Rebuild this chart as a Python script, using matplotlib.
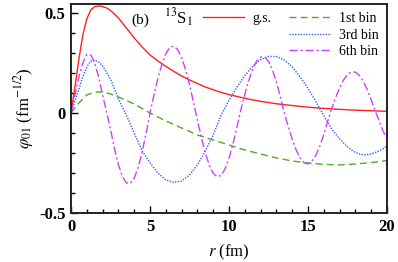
import matplotlib
matplotlib.use("Agg")
import matplotlib.pyplot as plt
from matplotlib.ticker import MultipleLocator

plt.rcParams['font.family'] = ['Liberation Serif', 'DejaVu Serif']
plt.rcParams['mathtext.fontset'] = 'stix'

# ground state (red, solid)
r_gs = [0, 0.25, 0.5, 0.75, 1.0, 1.25, 1.5, 1.75, 2.0, 2.25, 2.5, 2.75, 3.0, 3.5, 4.0, 4.5, 5.0,
        5.5, 6.0, 6.5, 7.0, 7.5, 8.0, 8.5, 9.0, 9.5, 10.0, 11.0, 12.0, 13.0, 14.0, 15.0, 16.0,
        17.0, 18.0, 19.0, 20.0]
v_gs = [0, 0.13, 0.27, 0.39, 0.47, 0.515, 0.532, 0.535, 0.532, 0.525, 0.512, 0.495, 0.475,
        0.425, 0.375, 0.33, 0.29, 0.26, 0.233, 0.208, 0.185, 0.165, 0.147, 0.13, 0.116, 0.103,
        0.092, 0.073, 0.058, 0.046, 0.037, 0.029, 0.023, 0.018, 0.014, 0.011, 0.008]

# 1st bin (green, dashed)
r_b1 = [0, 0.5, 1.0, 1.5, 2.0, 2.5, 3.0, 4.0, 5.0, 6.0, 7.0, 8.0, 9.0, 10.0,
        11.0, 12.0, 13.0, 14.0, 15.0, 16.0, 17.0, 18.0, 19.0, 20.0]
v_b1 = [0, 0.05, 0.09, 0.105, 0.105, 0.095, 0.08, 0.045, 0.0, -0.04, -0.075, -0.11, -0.135, -0.16,
        -0.185, -0.205, -0.225, -0.24, -0.25, -0.257, -0.26, -0.255, -0.248, -0.238]

# 3rd bin (blue, dotted)
r_b3 = [0, 0.25, 0.5, 0.75, 1.0, 1.25, 1.5, 1.75, 2.0, 2.5, 3.0, 3.5, 4.0, 4.5, 5.0, 5.5, 6.0, 6.5,
        7.0, 7.5, 8.0, 8.5, 9.0, 9.5, 10.0, 10.5, 11.0, 11.5, 12.0, 12.5, 13.0, 13.5, 14.0, 14.5,
        15.0, 15.5, 16.0, 16.5, 17.0, 17.5, 18.0, 18.5, 19.0, 19.5, 20.0]
v_b3 = [0, 0.06, 0.12, 0.18, 0.23, 0.26, 0.265, 0.255, 0.235, 0.17, 0.07, -0.01, -0.1, -0.19,
        -0.25, -0.30, -0.335, -0.347, -0.34, -0.31, -0.26, -0.19, -0.11, -0.01, 0.063, 0.129,
        0.187, 0.234, 0.267, 0.283, 0.282, 0.265, 0.23, 0.18, 0.123, 0.056, -0.014, -0.08,
        -0.13, -0.17, -0.198, -0.21, -0.205, -0.19, -0.165]

# 6th bin (magenta, dash-dot)
r_b6 = [0, 0.25, 0.5, 0.75, 1.0, 1.25, 1.5, 1.75, 2.0, 2.25, 2.5, 2.75, 3.0, 3.25, 3.5, 3.75,
        4.0, 4.25, 4.5, 4.75, 5.0, 5.25, 5.5, 5.75, 6.0, 6.25, 6.5, 6.75, 7.0, 7.25, 7.5, 7.75,
        8.0, 8.25, 8.5, 8.75, 9.0, 9.25, 9.5, 9.75, 10.0, 10.25, 10.5, 10.75, 11.0, 11.25, 11.5,
        11.75, 12.0, 12.25, 12.5, 12.75, 13.0, 13.25, 13.5, 13.75, 14.0, 14.25, 14.5, 14.75,
        15.0, 15.25, 15.5, 15.75, 16.0, 16.25, 16.5, 16.75, 17.0, 17.25, 17.5, 17.75, 18.0,
        18.25, 18.5, 18.75, 19.0, 19.25, 19.5, 19.75, 20.0]
v_b6 = [0, 0.09, 0.18, 0.25, 0.293, 0.29, 0.25, 0.18, 0.09, 0.005, -0.081, -0.178, -0.258,
        -0.317, -0.35, -0.352, -0.326, -0.272, -0.195, -0.103, 0.0, 0.09, 0.173, 0.243, 0.296,
        0.327, 0.334, 0.317, 0.277, 0.217, 0.141, 0.054, -0.036, -0.122, -0.2, -0.261, -0.302,
        -0.319, -0.312, -0.28, -0.226, -0.155, -0.071, 0.016, 0.093, 0.163, 0.22, 0.26, 0.28,
        0.28, 0.258, 0.215, 0.155, 0.08, 0.0, -0.068, -0.132, -0.185, -0.225, -0.249, -0.255,
        -0.241, -0.211, -0.165, -0.107, -0.041, 0.022, 0.077, 0.125, 0.165, 0.192, 0.206, 0.204,
        0.188, 0.158, 0.116, 0.066, 0.011, -0.04, -0.09, -0.13]

labels = ['g.s.', '1st bin', '3rd bin', '6th bin']

fig = plt.figure(figsize=(3.98, 2.62), dpi=100)
ax = fig.add_axes([0.1784, 0.187, 0.794, 0.798])

l_gs, = ax.plot(r_gs, v_gs, color='#ff2020', lw=1.0, ls='-')
l_b1, = ax.plot(r_b1, v_b1, color='#4caf20', lw=1.0, ls=(0, (5, 3)))
l_b3, = ax.plot(r_b3, v_b3, color='#3060ff', lw=1.0, ls=(0, (1, 1)))
l_b6, = ax.plot(r_b6, v_b6, color='#d040ff', lw=1.0, ls=(0, (6, 2, 1.5, 2)))

ax.set_xlim(0, 20)
ax.set_ylim(-0.5, 0.545)
ax.xaxis.set_major_locator(MultipleLocator(5))
ax.xaxis.set_minor_locator(MultipleLocator(1))
ax.yaxis.set_major_locator(MultipleLocator(0.5))
ax.yaxis.set_minor_locator(MultipleLocator(0.1))
ax.tick_params(which='both', direction='in', top=False, right=False, width=1.0)
ax.tick_params(which='major', length=5, labelsize=12, pad=4)
ax.tick_params(which='minor', length=3)
ax.set_xticks([0, 5, 10, 15, 20])
ax.set_xticklabels(['0', '5', '10', '15', '20'], fontweight='bold')
ax.set_yticks([-0.5, 0, 0.5])
ax.set_yticklabels(['-0.5', '0', '0.5'], fontweight='bold')
for s in ax.spines.values():
    s.set_linewidth(1.4)
    s.set_color('#222222')

ax.set_xlabel(r'$r$ (fm)', fontsize=12, labelpad=6)
ax.set_ylabel(r'$\varphi_{01}$ (fm$^{-1/2}$)', fontsize=12, labelpad=2)

ax.text(0.19, 0.905, '(b)', transform=ax.transAxes, fontsize=11)
ax.text(0.295, 0.905, r'$^{13}$S$_1$', transform=ax.transAxes, fontsize=12)

leg1 = ax.legend([l_gs], [labels[0]], loc='upper left', bbox_to_anchor=(0.39, 1.0),
                 frameon=False, fontsize=10, handlelength=3.0, handletextpad=0.6,
                 borderaxespad=0.2)
ax.add_artist(leg1)
ax.legend([l_b1, l_b3, l_b6], labels[1:], loc='upper right', bbox_to_anchor=(1.0, 1.0),
          frameon=False, fontsize=10, handlelength=3.0, handletextpad=0.6,
          labelspacing=0.25, borderaxespad=0.2)

fig.savefig('out.png', dpi=100)
